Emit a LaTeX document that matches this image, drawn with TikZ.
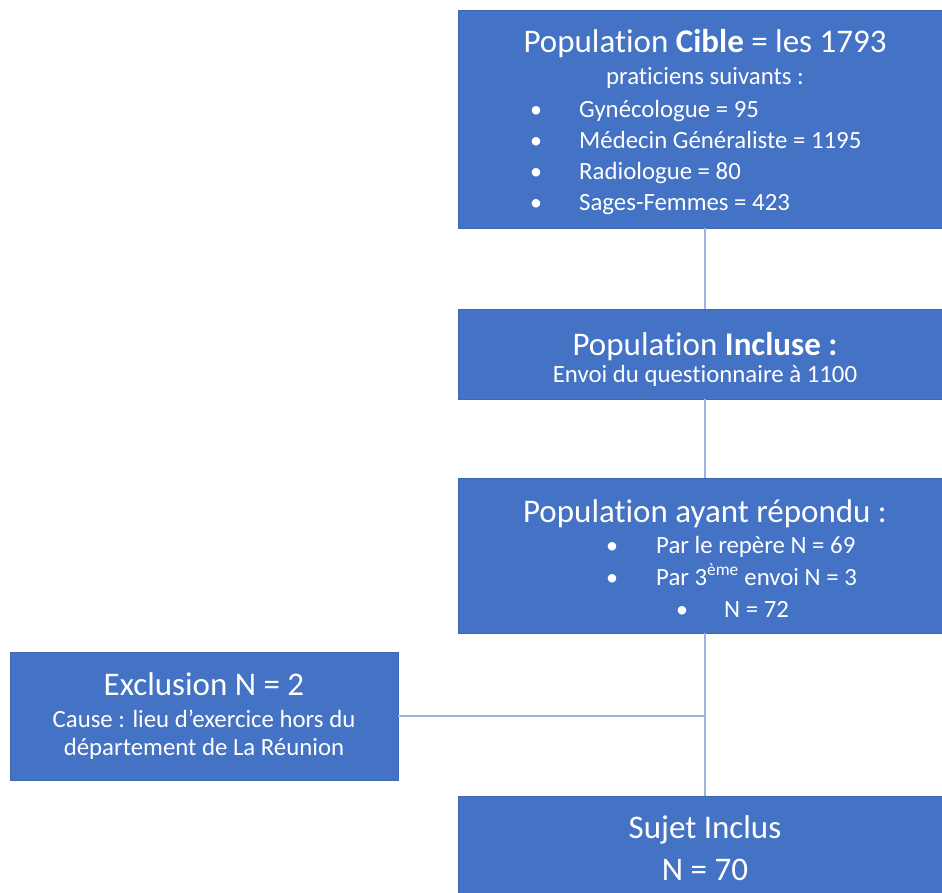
\documentclass[tikz,border=0pt]{standalone}
\usepackage{fontspec}
\setmainfont{Carlito}[Ligatures=NoCommon]
\definecolor{boxblue}{HTML}{4472C4}
\definecolor{boxedge}{HTML}{3E68B5}
\definecolor{lienbleu}{HTML}{9CB3E0}
\tikzset{
  boite/.style={rectangle, fill=boxblue, draw=boxedge, line width=0.6pt, inner sep=0pt},
  grand/.style={anchor=base, text=white, inner sep=0pt, font=\fontsize{33}{38}\selectfont},
  petit/.style={anchor=base, text=white, inner sep=0pt, font=\fontsize{24.8}{29}\selectfont},
  puce/.style={petit, font=\fontsize{24}{28}\selectfont},
  lien/.style={draw=lienbleu, line width=1.6pt}
}
\begin{document}
\begin{tikzpicture}[x=1pt,y=-1pt]
\useasboundingbox (0,0) rectangle (942,892);

% boites
\node[boite, minimum width=494, minimum height=218] (cible) at (705,119) {};
\node[boite, minimum width=494, minimum height=90] (incluse) at (705,354) {};
\node[boite, minimum width=494, minimum height=155] (repondu) at (705,555.5) {};
\node[boite, minimum width=388, minimum height=128] (exclu) at (204,716) {};
\node[boite, minimum width=494, minimum height=110] (sujet) at (705,851) {};

% liens
\draw[lien] (cible.south) -- (incluse.north);
\draw[lien] (incluse.south) -- (repondu.north);
\draw[lien] (repondu.south) -- (sujet.north);
\draw[lien] (exclu.east) -- (exclu.east -| repondu.south);

% population cible
\node[grand] (cibleT) at (705,52) {Population \textbf{Cible} = les 1793};
\node[petit] (cibleS) at (705,84) {praticiens suivants :};
\foreach \y/\t in {117/Gynécologue = 95, 148/Médecin Généraliste = 1195,
                   179/Radiologue = 80, 210/Sages-Femmes = 423}{
  \node[puce] (cibleP-\y) at (536,\y) {•};
  \node[petit, anchor=base west] (cibleL-\y) at (579,\y) {\t};
}

% population incluse
\node[grand] (inclT) at (705,355) {Population \textbf{Incluse :}};
\node[petit] (inclS) at (705,382) {Envoi du questionnaire à 1100};

% population ayant repondu
\node[grand] (repT) at (705,522) {Population ayant répondu :};
\node[puce] (repP-1) at (612,553) {•};
\node[petit, anchor=base west] (repL-1) at (656,553) {Par le repère N = 69};
\node[puce] (repP-2) at (612,585) {•};
\node[petit, anchor=base west] (repL-2) at (656,585) {Par 3\textsuperscript{ème} envoi N = 3};
\node[puce] (repP-3) at (682,617) {•};
\node[petit, anchor=base west] (repL-3) at (724,617) {N = 72};

% exclusion
\node[grand] (exclT) at (204,695) {Exclusion N = 2};
\node[petit] (exclL-1) at (204,727) {Cause : lieu d’exercice hors du};
\node[petit] (exclL-2) at (204,755) {département de La Réunion};

% sujet inclus
\node[grand] (sujT) at (705,838) {Sujet Inclus};
\node[grand] (sujN) at (705,880) {N = 70};
\end{tikzpicture}
\end{document}
